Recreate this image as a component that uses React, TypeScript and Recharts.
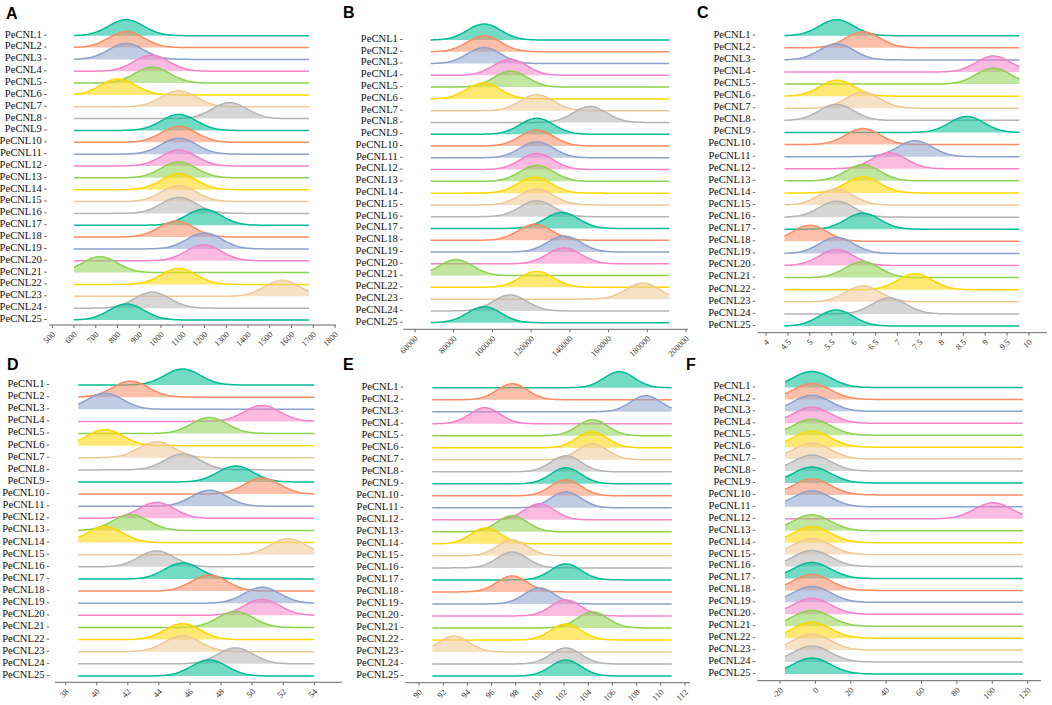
import { ComposedChart, Area, XAxis, YAxis } from 'recharts'

const GENES = [
  'PeCNL1', 'PeCNL2', 'PeCNL3', 'PeCNL4', 'PeCNL5', 'PeCNL6', 'PeCNL7', 'PeCNL8', 'PeCNL9',
  'PeCNL10', 'PeCNL11', 'PeCNL12', 'PeCNL13', 'PeCNL14', 'PeCNL15', 'PeCNL16', 'PeCNL17',
  'PeCNL18', 'PeCNL19', 'PeCNL20', 'PeCNL21', 'PeCNL22', 'PeCNL23', 'PeCNL24', 'PeCNL25',
]

// one colour per row, repeating every 8 genes
const LINE_COLORS = ['#00BC94', '#FA8C64', '#8CA0CD', '#F582C8', '#8CD250', '#FFD700', '#F0C896', '#B4B4B4']

// ridge centres per gene
const A_VALUES = [840, 840, 840, 956, 960, 803, 1082, 1316, 1082, 1082, 1082, 1082, 1082, 1082, 1082, 1082, 1196, 1071, 1200, 1196, 719, 1082, 1557, 960, 842]
const A_TICKS = [500, 600, 700, 800, 900, 1000, 1100, 1200, 1300, 1400, 1500, 1600, 1700, 1800]

const B_VALUES = [95700, 95700, 95700, 109100, 109400, 95400, 122900, 150400, 122900, 122900, 122900, 122900, 122900, 121700, 122900, 122900, 135800, 122000, 137000, 137000, 81200, 122900, 177700, 109100, 95700]
const B_TICKS = [60000, 80000, 100000, 120000, 140000, 160000, 180000, 200000]

const C_VALUES = [5.61, 6.21, 5.61, 9.19, 9.19, 5.62, 6.21, 5.61, 8.58, 6.21, 7.4, 6.81, 6.21, 6.21, 5.6, 5.61, 6.21, 5.0, 5.61, 5.61, 6.2, 7.4, 6.21, 6.81, 5.6]
const C_TICKS = [4, 4.5, 5, 5.5, 6, 6.5, 7, 7.5, 8, 8.5, 9, 9.5, 10]

const D_VALUES = [45.52, 42.18, 40.53, 50.64, 47.24, 40.53, 43.85, 45.52, 48.93, 50.64, 47.24, 43.85, 42.18, 40.53, 52.32, 43.85, 45.52, 47.24, 50.64, 50.64, 48.93, 45.52, 45.52, 48.93, 47.24]
const D_TICKS = [38, 40, 42, 44, 46, 48, 50, 52, 54]

const E_VALUES = [106.56, 97.71, 108.76, 95.45, 104.35, 104.3, 104.35, 102.15, 102.15, 102.15, 102.15, 99.95, 97.71, 95.54, 97.71, 97.71, 102.15, 97.71, 99.95, 102.15, 104.35, 102.15, 92.9, 102.15, 102.15]
const E_TICKS = [90, 92, 94, 96, 98, 100, 102, 104, 106, 108, 110, 112]

const F_VALUES = [-2, -2, -2, -2, -2, -2, -2, -2, -2, -2, -2, 100.5, -2, -2, -2, -2, -2, -2, -2, -2, -2, -2, -2, -2, -2]
const F_TICKS = [-20, 0, 20, 40, 60, 80, 100, 120]

const ROWS = GENES.map((_, i) => 24 - i)

type Panel = {
  letter: string
  letterX: number
  letterY: number
  left: number
  top: number
  values: number[]
  ticks: number[]
  cal: [number, number, number, number]
  axisEnds: [number, number]
  y1: number
  y25: number
  axisY: number
  dashX: number
  range: [number, number]
  sd: number
}

const PANELS: Panel[] = [
  { letter: 'A', letterX: 6, letterY: 18.5, left: 0, top: 0, values: A_VALUES, ticks: A_TICKS, cal: [600, 74, 1800, 335], axisEnds: [49, 336], y1: 35.7, y25: 320, axisY: 325, dashX: 46.7, range: [600, 1680], sd: 80 },
  { letter: 'B', letterX: 343, letterY: 17.5, left: 340, top: 0, values: B_VALUES, ticks: B_TICKS, cal: [60000, 415, 200000, 686], axisEnds: [403.3, 688], y1: 40, y25: 322.7, axisY: 329.3, dashX: 402.7, range: [68100, 191300], sd: 8600 },
  { letter: 'C', letterX: 697, letterY: 17.5, left: 680, top: 0, values: C_VALUES, ticks: C_TICKS, cal: [4, 766, 10, 1029], axisEnds: [757.3, 1047], y1: 35.7, y25: 326, axisY: 332.7, dashX: 755.3, range: [4.42, 9.78], sd: 0.39 },
  { letter: 'D', letterX: 7, letterY: 369.5, left: 0, top: 345, values: D_VALUES, ticks: D_TICKS, cal: [38, 65.7, 54, 314.3], axisEnds: [55, 341.7], y1: 385, y25: 676, axisY: 682.3, dashX: 49.3, range: [38.81, 54], sd: 1.14 },
  { letter: 'E', letterX: 343, letterY: 369.5, left: 340, top: 345, values: E_VALUES, ticks: E_TICKS, cal: [90, 419, 112, 685], axisEnds: [405, 690], y1: 387.7, y25: 676, axisY: 682.7, dashX: 403.3, range: [91.1, 110.9], sd: 1.25 },
  { letter: 'F', letterX: 686, letterY: 369.5, left: 680, top: 345, values: F_VALUES, ticks: F_TICKS, cal: [-20, 780, 120, 1027.7], axisEnds: [757.3, 1041], y1: 387.5, y25: 674, axisY: 680.7, dashX: 755.3, range: [-17.2, 117.2], sd: 10.5 },
]

const PEAK_PX = 16
const STEPS = 161
const SERIF = '"Liberation Serif", "Times New Roman", serif'

// kernel curve around each gene's value, stacked one row apart
function buildRows(p: Panel, rowH: number) {
  const peak = PEAK_PX / rowH
  const [lo, hi] = p.range
  const rows: Record<string, number>[] = []
  for (let k = 0; k < STEPS; k++) {
    const x = lo + ((hi - lo) * k) / (STEPS - 1)
    const row: Record<string, number> = { x }
    p.values.forEach((c, i) => {
      const z = (x - c) / p.sd
      row['g' + i] = 24 - i + peak * Math.exp(-0.5 * z * z)
    })
    rows.push(row)
  }
  return rows
}

function RidgePanel({ p }: { p: Panel }) {
  const [v0, p0, v1, p1] = p.cal
  const k = (p1 - p0) / (v1 - v0)
  const domain = [v0 + (p.axisEnds[0] - p0) / k, v0 + (p.axisEnds[1] - p0) / k]
  const rowH = (p.y25 - p.y1) / 24
  const yHi = 26.6
  const yLo = -(p.axisY - p.y25) / rowH
  const plotTop = p.y25 - yHi * rowH
  const yAxisW = p.axisEnds[0] - p.left
  const width = p.axisEnds[1] - p.left + 12
  const xAxisH = 30
  const height = p.axisY - p.top + xAxisH
  const data = buildRows(p, rowH)
  const axisLocal = p.axisY - p.top
  const dashLocal = p.dashX - p.left

  return (
    <div style={{ position: 'absolute', left: p.left, top: p.top }}>
      <ComposedChart
        width={width}
        height={height}
        data={data}
        margin={{ top: plotTop - p.top, right: 12, bottom: 0, left: 0 }}
      >
        <XAxis
          dataKey="x"
          type="number"
          domain={domain}
          ticks={p.ticks}
          interval={0}
          allowDataOverflow
          height={xAxisH}
          axisLine={{ stroke: '#666', strokeWidth: 1 }}
          tickLine={{ stroke: '#666' }}
          tickSize={3}
          tick={(props: any) => (
            <text
              x={props.x + 3.5}
              y={axisLocal + 10}
              transform={`rotate(-45 ${props.x + 3.5} ${axisLocal + 10})`}
              textAnchor="end"
              fontSize={8.5}
              fontFamily={SERIF}
              fill="#333"
            >
              {props.payload.value}
            </text>
          )}
        />
        <YAxis
          type="number"
          domain={[yLo, yHi]}
          ticks={ROWS}
          interval={0}
          allowDataOverflow
          width={yAxisW}
          axisLine={false}
          tickLine={false}
          tick={(props: any) => (
            <g>
              <text
                x={dashLocal - 4.8}
                y={props.y - 1.5}
                dy="0.32em"
                textAnchor="end"
                fontSize={10.6}
                fontFamily={SERIF}
                fill="#111"
              >
                {GENES[24 - props.payload.value]}
              </text>
              <line x1={dashLocal - 2.6} x2={dashLocal} y1={props.y - 0.5} y2={props.y - 0.5} stroke="#444" strokeWidth={0.8} />
            </g>
          )}
        />
        {p.values.map((_, i) => {
          const color = LINE_COLORS[i % LINE_COLORS.length]
          return (
            <Area
              key={i}
              dataKey={'g' + i}
              baseValue={24 - i}
              type="monotone"
              stroke={color}
              strokeWidth={1.5}
              fill={color}
              fillOpacity={0.55}
              dot={false}
              activeDot={false}
              isAnimationActive={false}
            />
          )
        })}
      </ComposedChart>
    </div>
  )
}

export default function App() {
  return (
    <div style={{ position: 'relative', width: 1052, height: 705, background: '#fff', overflow: 'hidden' }}>
      <style>{'body{margin:0}'}</style>
      {PANELS.map((p) => (
        <RidgePanel key={p.letter} p={p} />
      ))}
      <svg width={1052} height={705} style={{ position: 'absolute', left: 0, top: 0, pointerEvents: 'none' }}>
        {PANELS.map((p) => (
          <text
            key={p.letter}
            x={p.letterX}
            y={p.letterY}
            fontSize={16}
            fontWeight="bold"
            fontFamily='"Liberation Sans", Arial, sans-serif'
            fill="#000"
          >
            {p.letter}
          </text>
        ))}
      </svg>
    </div>
  )
}
